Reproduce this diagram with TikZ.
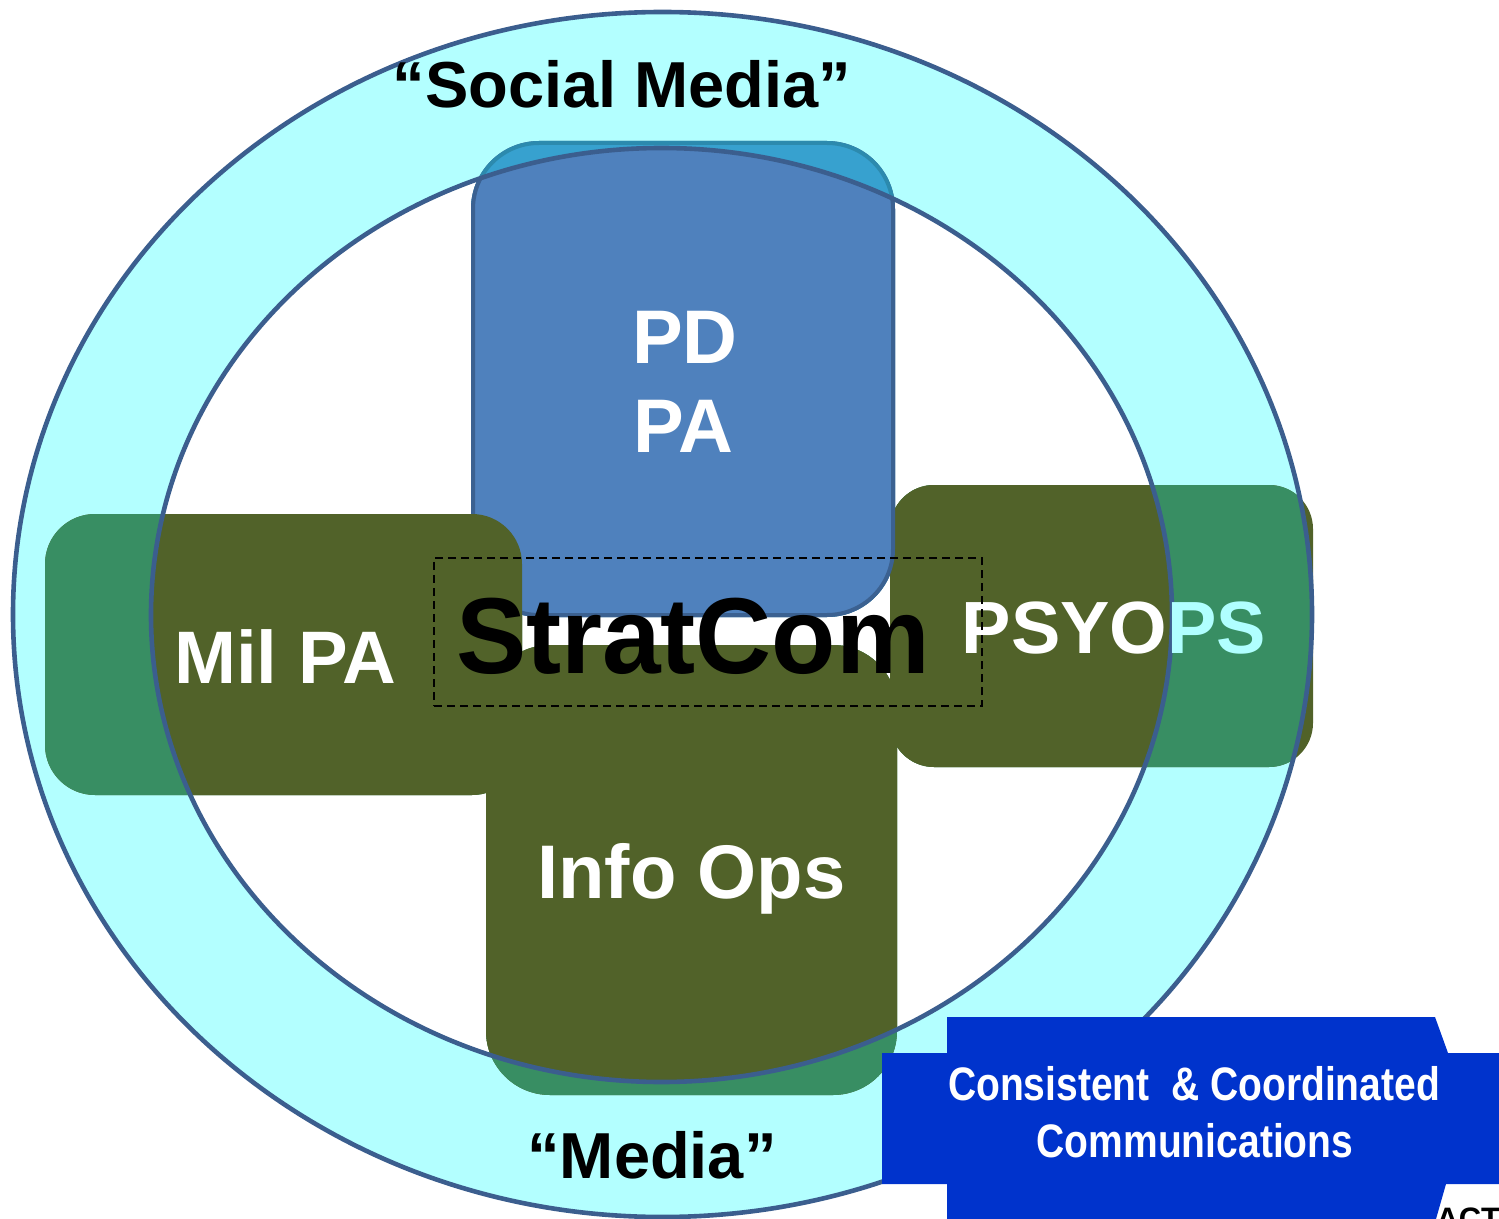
\documentclass[tikz,border=0pt]{standalone}
\usepackage{fontspec}
\setmainfont{Liberation Sans}
\usepackage{graphicx}
\definecolor{ringcyan}{HTML}{B3FFFF}
\definecolor{ringline}{HTML}{3B5E8E}
\definecolor{olivebox}{HTML}{516229}
\definecolor{tealbox}{HTML}{388E63}
\definecolor{pdblue}{HTML}{4F81BD}
\definecolor{pdline}{HTML}{3B6191}
\definecolor{pdringfill}{HTML}{37A1CF}
\definecolor{pdringline}{HTML}{2C8AAE}
\definecolor{bannerblue}{HTML}{0033CC}
\definecolor{pscyan}{HTML}{B0FFFF}
\begin{document}
\begin{tikzpicture}[x=0.5pt,y=-0.5pt,
  boxshape/.style={rectangle, inner sep=0pt, outer sep=0pt},
  whitelbl/.style={text=white, inner sep=0pt, anchor=base, font=\fontsize{38pt}{44pt}\selectfont\bfseries},
  blacklbl/.style={text=black, inner sep=0pt, anchor=base, font=\fontsize{32.5pt}{38pt}\selectfont\bfseries},
  bannerlbl/.style={text=white, inner sep=0pt, anchor=base, font=\fontsize{23.5pt}{28pt}\selectfont\bfseries},
  ringedge/.style={draw=ringline, line width=2.3pt}]
\useasboundingbox (0,0) rectangle (1499,1219);
% ring background
\fill[ringcyan] (662.5,614.5) ellipse [x radius=324.75pt, y radius=301.25pt];
\fill[white] (661.5,615) ellipse [x radius=255.25pt, y radius=233.5pt];
% boxes (full extent)
\node[boxshape, fill=olivebox, rounded corners=22pt, minimum width=211.5pt, minimum height=141pt] (psy) at (1101.5,626) {};
\node[boxshape, fill=pdblue, draw=pdline, line width=2pt, rounded corners=33pt, minimum width=210pt, minimum height=236pt] (pd) at (683,379) {};
\node[boxshape, fill=olivebox, rounded corners=25pt, minimum width=238.5pt, minimum height=140.5pt] (mil) at (283.5,654.5) {};
\node[boxshape, fill=olivebox, rounded corners=32pt, minimum width=205.5pt, minimum height=225pt] (info) at (691.5,870) {};
% parts over the ring
\begin{scope}
  \clip (662.5,614.5) ellipse [x radius=324.75pt, y radius=301.25pt];
  \fill[tealbox, rounded corners=22pt] (psy.north west) rectangle (psy.south east);
  \filldraw[fill=pdringfill, draw=pdringline, line width=2pt, rounded corners=33pt] (pd.north west) rectangle (pd.south east);
  \fill[tealbox, rounded corners=25pt] (mil.north west) rectangle (mil.south east);
  \fill[tealbox, rounded corners=32pt] (info.north west) rectangle (info.south east);
\end{scope}
% parts inside the inner ellipse
\begin{scope}
  \clip (661.5,615) ellipse [x radius=255.25pt, y radius=233.5pt];
  \fill[olivebox, rounded corners=22pt] (psy.north west) rectangle (psy.south east);
  \filldraw[fill=pdblue, draw=pdline, line width=2pt, rounded corners=33pt] (pd.north west) rectangle (pd.south east);
  \fill[olivebox, rounded corners=25pt] (mil.north west) rectangle (mil.south east);
  \fill[olivebox, rounded corners=32pt] (info.north west) rectangle (info.south east);
\end{scope}
% ellipse outlines
\draw[ringedge] (662.5,614.5) ellipse [x radius=324.75pt, y radius=301.25pt];
\draw[ringedge] (661.5,615) ellipse [x radius=255.25pt, y radius=233.5pt];
% labels
\node[whitelbl] (tpd) at (685,364) {PD};
\node[whitelbl] (tpa) at (683,452) {PA};
\node[whitelbl, font=\fontsize{37.2pt}{44pt}\selectfont\bfseries] (tmil) at (285,683) {Mil PA};
\node[whitelbl, font=\fontsize{37pt}{44pt}\selectfont\bfseries] (tpsy) at (1114,653) {\textcolor{white}{PSYO}\textcolor{pscyan}{PS}};
\node[whitelbl] (tinfo) at (691.5,898) {Info Ops};
% StratCom
\node[boxshape, draw=black, line width=1pt, dash pattern=on 4pt off 2.5pt, minimum width=274pt, minimum height=74pt] (frame) at (708,632) {};
\node[text=black, inner sep=0pt, anchor=base, font=\fontsize{54pt}{60pt}\selectfont\bfseries] (strat) at (693,673) {\scalebox{0.975}[1]{StratCom}};
% media labels
\node[blacklbl] (tsocial) at (622,108) {``Social Media''};
\node[blacklbl] (tmedia) at (652,1178) {``Media''};
% banner
\fill[bannerblue] (947,1017) -- (1435,1017) -- (1448,1053) -- (1499,1053) -- (1499,1184) -- (1446,1184) -- (1436,1219) -- (947,1219) -- (947,1184) -- (882,1184) -- (882,1053) -- (947,1053) -- cycle;
\node[bannerlbl] (tb1) at (1194,1100) {\scalebox{0.83}[1]{Consistent\ \ \& Coordinated}};
\node[bannerlbl] (tb2) at (1195,1157) {\scalebox{0.83}[1]{Communications}};
\begin{scope}
  \clip (0,0) rectangle (1499,1219);
  \node[text=black, inner sep=0pt, anchor=north west, font=\fontsize{15.5pt}{18pt}\selectfont\bfseries] (tact) at (1436,1207) {ACT};
\end{scope}
\end{tikzpicture}
\end{document}
